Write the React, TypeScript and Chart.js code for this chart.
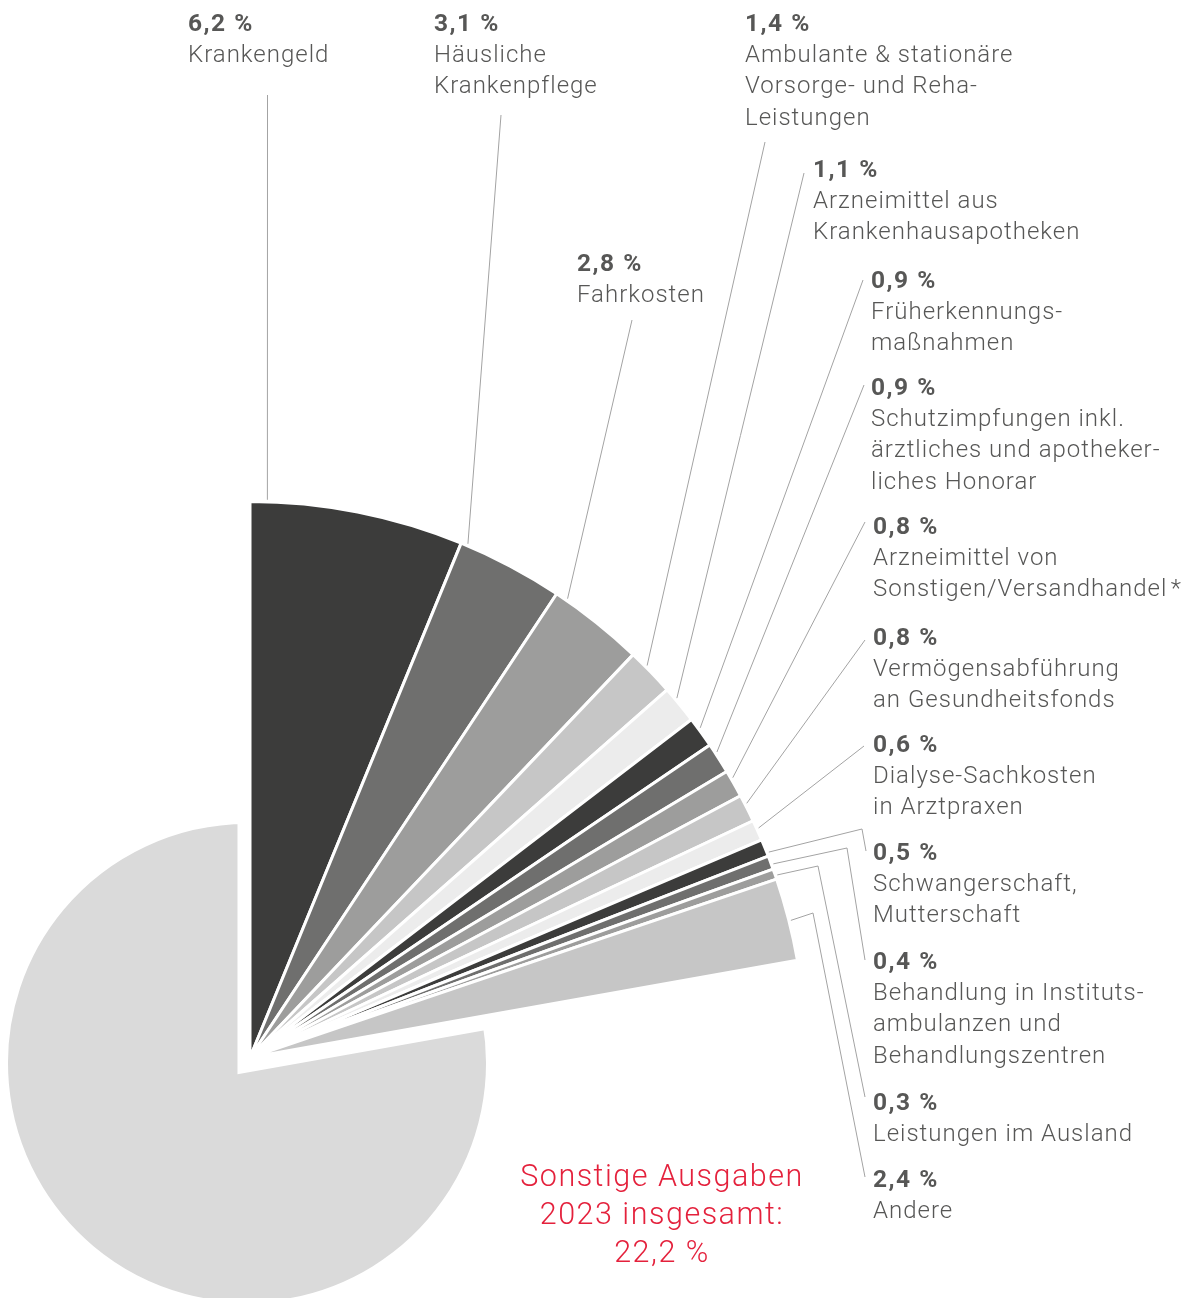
import React, { useEffect, useRef } from "react";
import { Chart, registerables } from "chart.js";

Chart.register(...registerables);

// ---------- data ----------
const categories: string[][] = [
  ["Krankengeld"],
  ["Häusliche", "Krankenpflege"],
  ["Fahrkosten"],
  ["Ambulante & stationäre", "Vorsorge- und Reha-", "Leistungen"],
  ["Arzneimittel aus", "Krankenhausapotheken"],
  ["Früherkennungs-", "maßnahmen"],
  ["Schutzimpfungen inkl.", "ärztliches und apotheker-", "liches Honorar"],
  ["Arzneimittel von", "Sonstigen/Versandhandel\u200A*"],
  ["Vermögensabführung", "an Gesundheitsfonds"],
  ["Dialyse-Sachkosten", "in Arztpraxen"],
  ["Schwangerschaft,", "Mutterschaft"],
  ["Behandlung in Instituts-", "ambulanzen und", "Behandlungszentren"],
  ["Leistungen im Ausland"],
  ["Andere"],
];
const values: number[] = [6.2, 3.1, 2.8, 1.4, 1.1, 0.9, 0.9, 0.8, 0.8, 0.6, 0.5, 0.4, 0.3, 2.4];
const totalShare = 22.2;
const remainderShare = 77.8;
const titleLines: string[] = ["Sonstige Ausgaben", "2023 insgesamt:"];

// ---------- styles / layout ----------
const palette = ["#3c3c3b", "#6f6f6e", "#9d9d9c", "#c6c6c6", "#ececec"];
const restColor = "#dadada";
const textColor = "#575756";
const lineColor = "#a3a3a3";
const redColor = "#e4213c";
const FONT = "Roboto, 'Liberation Sans', Arial, sans-serif";

// label anchor: [x, first baseline]
const labelPos: number[][] = [
  [188, 31], [434, 31], [577, 271], [745, 31], [813, 177], [871, 288], [871, 395],
  [873, 534], [873, 645], [873, 752], [873, 860], [873, 969], [873, 1110], [873, 1187],
];
// leader line points starting at the label side
const leaderPaths: number[][][] = [
  [[267.5, 95]],
  [[501, 115]],
  [[632, 320]],
  [[765, 142]],
  [[804, 173]],
  [[863, 280]],
  [[864, 385]],
  [[865, 522]],
  [[865, 640]],
  [[864, 746]],
  [[866, 851], [862, 829]],
  [[865, 960], [847, 848]],
  [[865, 1097], [818, 866]],
  [[865, 1177], [813, 913]],
];
// where along each slice the leader meets the arc (0 = start, 1 = end)
const leaderFractions: number[] = [0.08, 0.06, 0.12, 0.36, 0.33, 0.38, 0.31, 0.3, 0.34, 0.42, 0.8, 0.65, 0.65, 0.52];

const W = 1196;
const H = 1298;
const mainCenter = [250, 1057.5];
const mainRadius = 556;
const restCenter = [247, 1063];
const restRadius = 248.5;

const fmt = (v: number) => v.toFixed(1).replace(".", ",") + " %";

const leaderPlugin = {
  id: "leaders",
  afterDatasetsDraw(chart: any) {
    const meta = chart.getDatasetMeta(0);
    const ctx = chart.ctx as CanvasRenderingContext2D;
    ctx.save();
    ctx.strokeStyle = lineColor;
    ctx.lineWidth = 1;
    leaderPaths.forEach((pts, i) => {
      const arc = meta.data[i];
      const p = arc.getProps(["x", "y", "startAngle", "endAngle", "outerRadius"], true);
      const a = p.startAngle + leaderFractions[i] * (p.endAngle - p.startAngle);
      const ex = p.x + Math.cos(a) * (p.outerRadius + 2);
      const ey = p.y + Math.sin(a) * (p.outerRadius + 2);
      ctx.beginPath();
      ctx.moveTo(pts[0][0], pts[0][1]);
      for (let k = 1; k < pts.length; k++) ctx.lineTo(pts[k][0], pts[k][1]);
      ctx.lineTo(ex, ey);
      ctx.stroke();
    });
    ctx.restore();
  },
};

function padFor(c: number[]) {
  return { left: 0, right: W - 2 * c[0], top: H - 2 * (H - c[1]), bottom: 0 };
}

export default function App() {
  const mainRef = useRef<HTMLCanvasElement>(null);
  const restRef = useRef<HTMLCanvasElement>(null);

  useEffect(() => {
    const restChart = new Chart(restRef.current!, {
      type: "pie",
      data: {
        labels: ["Sonstige Ausgaben", "Übrige Ausgaben"],
        datasets: [
          {
            data: [totalShare, remainderShare],
            backgroundColor: ["rgba(0,0,0,0)", restColor],
            borderColor: "#ffffff",
            borderWidth: [0, 19],
            borderJoinStyle: "miter",
            radius: restRadius,
            clip: false,
          } as any,
        ],
      },
      options: {
        responsive: false,
        animation: false,
        events: [],
        layout: { padding: padFor(restCenter) },
        plugins: { legend: { display: false }, tooltip: { enabled: false } },
      },
    });

    const colors = values.map((_, i) => palette[i % palette.length]);
    const mainChart = new Chart(mainRef.current!, {
      type: "pie",
      data: {
        labels: [...categories.map((c) => c.join(" ")), "Übrige Ausgaben"],
        datasets: [
          {
            data: [...values, remainderShare],
            backgroundColor: [...colors, "rgba(0,0,0,0)"],
            borderColor: "#ffffff",
            borderWidth: [...values.map(() => 3), 0],
            radius: mainRadius,
            clip: false,
          } as any,
        ],
      },
      options: {
        responsive: false,
        animation: false,
        events: [],
        layout: { padding: padFor(mainCenter) },
        plugins: { legend: { display: false }, tooltip: { enabled: false } },
      },
      plugins: [leaderPlugin],
    });

    return () => {
      mainChart.destroy();
      restChart.destroy();
    };
  }, []);

  const canvasStyle: React.CSSProperties = { position: "absolute", left: 0, top: 0, width: W, height: H };
  const LH = 31.7;

  return (
    <div
      style={{
        position: "absolute",
        left: 0,
        top: 0,
        width: W,
        height: H,
        overflow: "hidden",
        background: "#ffffff",
        fontFamily: FONT,
      }}
    >
      <canvas ref={restRef} width={W} height={H} style={canvasStyle} />
      <canvas ref={mainRef} width={W} height={H} style={canvasStyle} />
      {categories.map((lines, i) => (
        <div
          key={i}
          style={{
            position: "absolute",
            left: labelPos[i][0],
            top: labelPos[i][1] - 24.1,
            fontSize: 24,
            lineHeight: LH + "px",
            color: textColor,
            fontWeight: 300,
            whiteSpace: "nowrap",
            letterSpacing: "1px",
          }}
        >
          <div style={{ fontWeight: 700, fontSize: 24.5, letterSpacing: "1.5px" }}>{fmt(values[i])}</div>
          {lines.map((l, k) => (
            <div key={k}>{l}</div>
          ))}
        </div>
      ))}
      <div
        style={{
          position: "absolute",
          left: 462,
          width: 400,
          top: 1186.7 - 29.5,
          textAlign: "center",
          fontSize: 30.5,
          lineHeight: "38px",
          color: redColor,
          fontWeight: 300,
          letterSpacing: "1.5px",
          whiteSpace: "nowrap",
        }}
      >
        {titleLines.map((l, k) => (
          <div key={k}>{l}</div>
        ))}
        <div>{fmt(totalShare)}</div>
      </div>
    </div>
  );
}
